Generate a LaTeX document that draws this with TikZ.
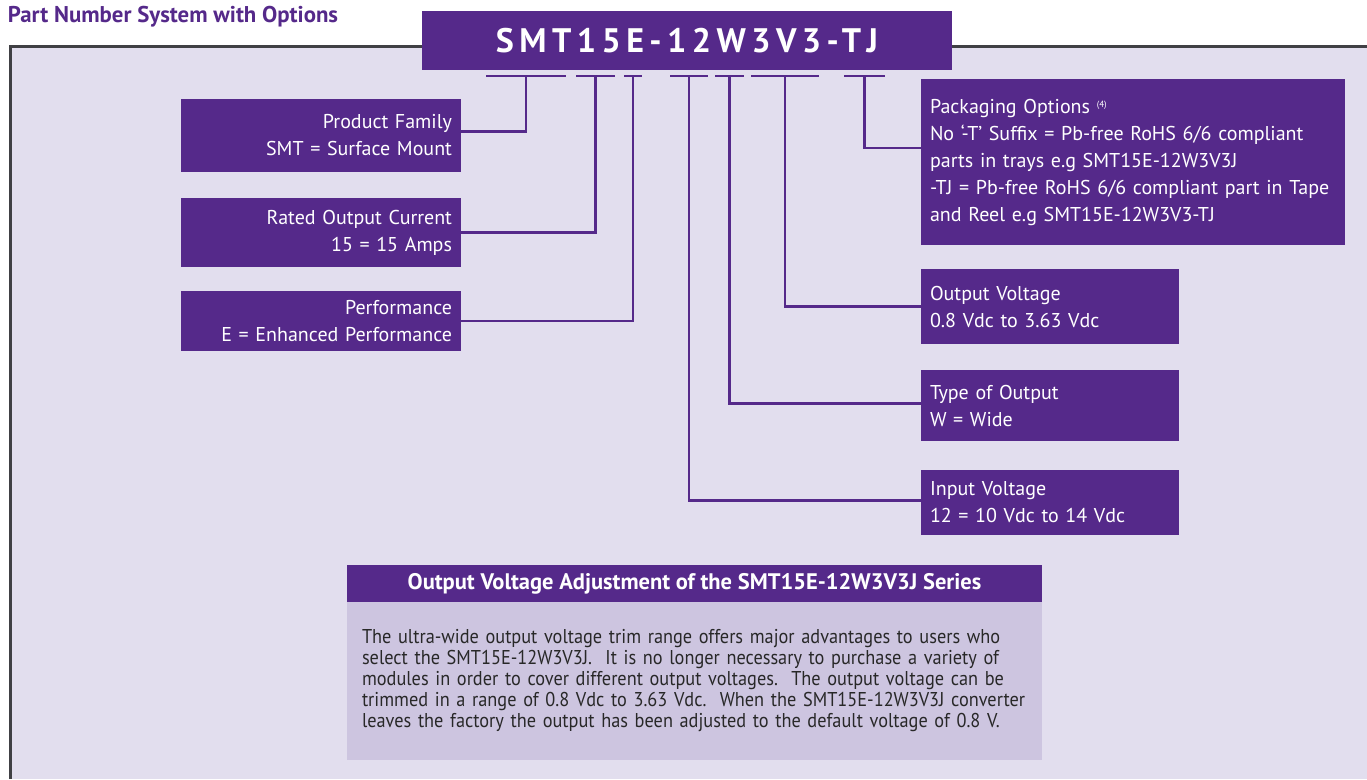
\documentclass[tikz,border=0pt]{standalone}
\usepackage{fontspec}
\setmainfont{PT Sans}
\usepackage{xcolor}
\usepackage{tikz}
\definecolor{pnpurple}{RGB}{85,41,138}
\definecolor{pnback}{RGB}{226,222,238}
\definecolor{pnpanel}{RGB}{205,197,224}
\definecolor{pnframe}{RGB}{64,64,68}
\definecolor{pntext}{RGB}{40,40,40}

\begin{document}
\begin{tikzpicture}[x=1pt,y=-1pt,every node/.style={inner sep=0pt,outer sep=0pt,anchor=north west},
        infobox/.style={fill=pnpurple,text=white,inner xsep=9pt,font=\fontsize{20}{27}\selectfont},
        link/.style={draw=pnpurple,line width=2.6pt}]
    \useasboundingbox (0,0) rectangle (1367,779);
    \fill[pnback] (10,46) rectangle (1367,779);
    \draw[pnframe,line width=3pt] (10,779) -- (10,46) -- (1367,46);
    \node[anchor=west,text=pnpurple,font=\bfseries\fontsize{22.8}{26}\selectfont] (title) at (8,17) {Part Number System with Options};
    \node[fill=pnpurple,text=white,minimum width=530,minimum height=59,font=\bfseries\fontsize{34}{40}\selectfont\addfontfeatures{LetterSpace=16}] (pn) at (422,11) {SMT15E-12W3V3-TJ};
    \foreach \a/\b/\n in {486/566/ufam,576/615/urate,624/642/uperf,670/708/uin,715/744/utype,751/819/uout,844/885/utj}
        \draw[link] (\a,76) -- coordinate (\n) (\b,76);
    \node[infobox,text width=262,minimum height=73,align=right] (family) at (181,99) {Product Family\\SMT = Surface Mount};
    \node[infobox,text width=262,minimum height=69,align=right] (rated) at (181,198) {Rated Output Current\\15 = 15 Amps};
    \node[infobox,text width=262,minimum height=60,align=right] (perf) at (181,291) {Performance\\E = Enhanced Performance};
    \node[infobox,text width=406,minimum height=166,align=left] (pack) at (921,79) {Packaging Options {\fontsize{9}{9}\selectfont\raisebox{6pt}{(4)}}\\No ‘-T’ Suffix = Pb-free RoHS 6/6 compliant\\parts in trays e.g SMT15E-12W3V3J\\-TJ = Pb-free RoHS 6/6 compliant part in Tape\\and Reel e.g SMT15E-12W3V3-TJ};
    \node[infobox,text width=240,minimum height=75,align=left] (outv) at (921,269) {Output Voltage\\0.8 Vdc to 3.63 Vdc};
    \node[infobox,text width=240,minimum height=71,align=left] (outtype) at (921,370) {Type of Output\\W = Wide};
    \node[infobox,text width=240,minimum height=65,align=left] (inv) at (921,470) {Input Voltage\\12 = 10 Vdc to 14 Vdc};
    \draw[link] (ufam) |- ([yshift=4pt]family.east);
    \draw[link] (urate) |- (rated.east);
    \draw[link] (uperf) |- (perf.east);
    \draw[link] (utj) |- ([yshift=14pt]pack.west);
    \draw[link] (uout) |- (outv.west);
    \draw[link] (utype) |- ([yshift=2pt]outtype.west);
    \draw[link] (uin) |- ([yshift=2pt]inv.west);
    \node[fill=pnpurple,text=white,minimum width=695,minimum height=37,font=\bfseries\fontsize{22.5}{26}\selectfont] (adjhead) at (347,565) {Output Voltage Adjustment of the SMT15E-12W3V3J Series};
    \node[anchor=north,fill=pnpanel,text=pntext,inner xsep=15pt,text width=665,minimum height=158,align=left,font=\fontsize{20}{21}\selectfont\addfontfeatures{FakeStretch=0.915}] (adjbody) at (adjhead.south) {\hyphenpenalty=10000\relax The ultra-wide output voltage trim range offers major advantages to users who\\select the SMT15E-12W3V3J.\ \ It is no longer necessary to purchase a variety of\\modules in order to cover different output voltages.\ \ The output voltage can be\\trimmed in a range of 0.8 Vdc to 3.63 Vdc.\ \ When the SMT15E-12W3V3J converter\\leaves the factory the output has been adjusted to the default voltage of 0.8 V.};
\end{tikzpicture}
\end{document}
